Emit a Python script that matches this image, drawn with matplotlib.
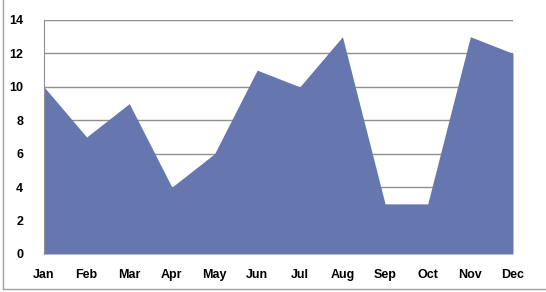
import matplotlib
matplotlib.use("Agg")
from matplotlib import pyplot as plt
from matplotlib.lines import Line2D

months = ['Jan', 'Feb', 'Mar', 'Apr', 'May', 'Jun',
          'Jul', 'Aug', 'Sep', 'Oct', 'Nov', 'Dec']
values = [10, 7, 9, 4, 6, 11, 10, 13, 3, 3, 13, 12]
y_ticks = [0, 2, 4, 6, 8, 10, 12, 14]

plt.rcParams['font.family'] = ['Liberation Sans', 'DejaVu Sans']

fig = plt.figure(figsize=(5.46, 2.92), dpi=100)
ax = fig.add_axes([44 / 546, 38 / 292, 469 / 546, 234 / 292])

x = list(range(len(months)))
ax.fill_between(x, values, 0, color='#6677b0', linewidth=0, zorder=2)

ax.set_xlim(0, len(months) - 1)
ax.set_ylim(0, 14)
ax.set_yticks(y_ticks)
ax.set_xticks(x)
ax.set_xticklabels(months)
ax.grid(axis='y', color='#909090', linewidth=1, zorder=1)

for side in ['top', 'right', 'bottom']:
    ax.spines[side].set_visible(False)
ax.spines['left'].set_color('#909090')
ax.tick_params(length=0, labelsize=9, pad=11)
for lbl in ax.get_xticklabels() + ax.get_yticklabels():
    lbl.set_fontweight('bold')
ax.tick_params(axis='y', pad=15)

# outer chart frame (left and bottom edges visible)
fig.add_artist(Line2D([2.5 / 546, 2.5 / 546], [3 / 292, 1], color='#a0a0a0', linewidth=1))
fig.add_artist(Line2D([2.5 / 546, 1], [3 / 292, 3 / 292], color='#a0a0a0', linewidth=1))

fig.savefig('out.png', dpi=100)
